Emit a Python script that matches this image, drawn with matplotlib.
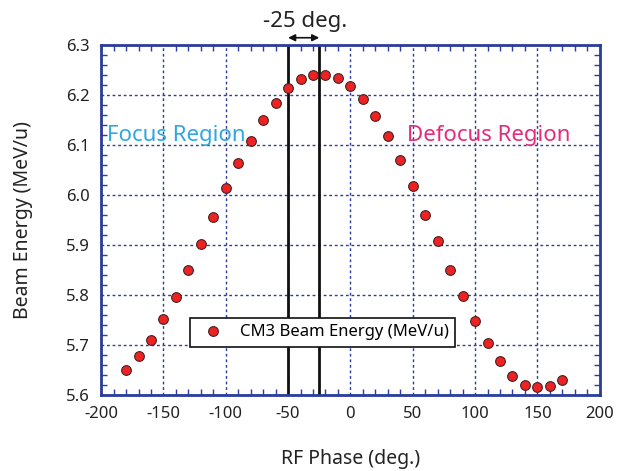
import numpy as np
import matplotlib.pyplot as plt
from matplotlib.ticker import MultipleLocator

plt.rcParams['font.family'] = ['Noto Sans', 'DejaVu Sans']
plt.rcParams['axes.unicode_minus'] = False

# RF phase scan of CM3, beam energy after the cavity
phase = [-180, -170, -160, -150, -140, -130, -120, -110, -100, -90,
         -80, -70, -60, -50, -40, -30, -20, -10, 0, 10,
         20, 30, 40, 50, 60, 70, 80, 90, 100, 110,
         120, 130, 140, 150, 160, 170]
energy = [5.651, 5.679, 5.711, 5.753, 5.796, 5.851, 5.901, 5.956, 6.014, 6.063,
          6.108, 6.149, 6.184, 6.213, 6.231, 6.239, 6.239, 6.233, 6.217, 6.191,
          6.157, 6.117, 6.069, 6.017, 5.959, 5.908, 5.851, 5.799, 5.749, 5.705,
          5.668, 5.639, 5.621, 5.617, 5.619, 5.631]
phase_lines = [-50, -25]

frame = '#2b3c9b'

fig = plt.figure(figsize=(6.28, 4.71), dpi=100)
ax = fig.add_axes([0.161, 0.161, 0.794, 0.744])

ax.set_xlim(-200, 200)
ax.set_ylim(5.6, 6.3)
ax.xaxis.set_major_locator(MultipleLocator(50))
ax.xaxis.set_minor_locator(MultipleLocator(10))
ax.yaxis.set_major_locator(MultipleLocator(0.1))
ax.yaxis.set_minor_locator(MultipleLocator(0.02))
ax.yaxis.set_major_formatter(plt.FormatStrFormatter('%.1f'))

ax.grid(True, which='major', color=frame, linestyle=(0, (2, 2)), linewidth=1.0)
for s in ax.spines.values():
    s.set_color(frame)
    s.set_linewidth(2)
ax.tick_params(which='both', direction='in', top=True, right=True, color=frame)
ax.tick_params(which='major', length=0, labelsize=12, pad=8, labelcolor='#222222')
ax.tick_params(which='minor', length=4, width=1)

for x in phase_lines:
    ax.axvline(x, color='#111111', linewidth=2, zorder=2)

ax.plot(phase, energy, 'o', color='#ee2222', markeredgecolor='#442222',
        markeredgewidth=0.8, markersize=7, zorder=4,
        label='CM3 Beam Energy (MeV/u)')

leg = ax.legend(loc='lower left', bbox_to_anchor=(0.178, 0.137), fontsize=12,
                frameon=True, fancybox=False, framealpha=1, edgecolor='#111111',
                handletextpad=0.6, borderpad=0.4, handlelength=2.0,
                borderaxespad=0)
leg.get_frame().set_linewidth(1.2)
leg.set_zorder(5)

ax.annotate('', xy=(phase_lines[0], 6.314), xytext=(phase_lines[1], 6.314),
            xycoords='data', annotation_clip=False,
            arrowprops=dict(arrowstyle='<|-|>', color='#111111', lw=1.2,
                            mutation_scale=10, shrinkA=0, shrinkB=0))
ax.text(-36, 6.325, '-25 deg.', ha='center', va='bottom', fontsize=16,
        color='#222222', clip_on=False)

ax.text(-195, 6.108, 'Focus Region', color='#2ea7e0', fontsize=16,
        ha='left', va='baseline')
ax.text(45, 6.108, 'Defocus Region', color='#e6297b', fontsize=16,
        ha='left', va='baseline')

ax.set_xlabel('RF Phase (deg.)', fontsize=14, labelpad=19, color='#222222')
ax.set_ylabel('Beam Energy (MeV/u)', fontsize=14, labelpad=24, color='#222222')

fig.savefig('out.png', dpi=100)
